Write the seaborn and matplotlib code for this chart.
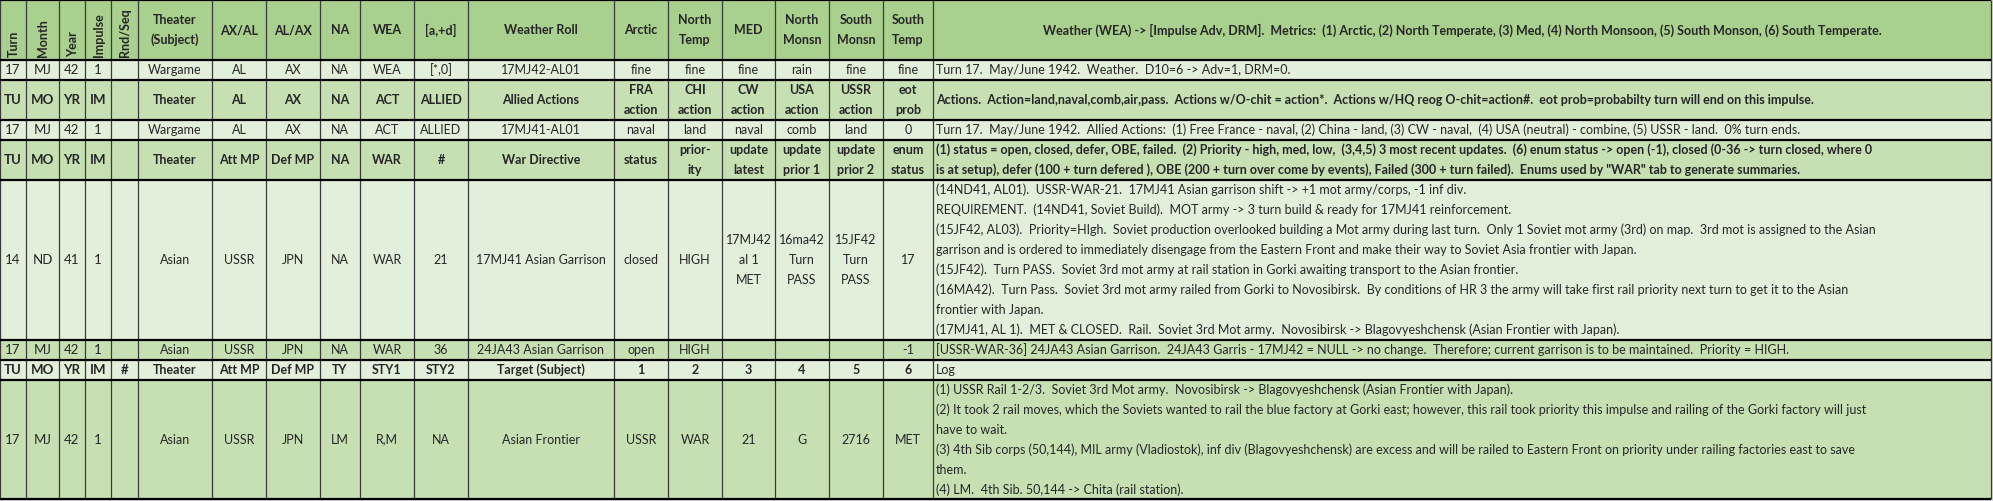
import matplotlib
matplotlib.use("Agg")
import matplotlib.pyplot as plt
import matplotlib.patches as mpatches
import seaborn as sns

sns.set_theme(style="white")
plt.rcParams['font.family'] = ['Lato', 'DejaVu Sans']

# column edges and row edges of the sheet (pixels)
col_edges = [0, 26, 59, 85, 111, 138, 212, 266, 320, 360, 414, 468, 614, 668,
             722, 775, 829, 883, 933, 1991]
row_edges = [0, 60, 80, 120, 140, 180, 340, 360, 380, 499]

DARK = '#A9D08E'
MID = '#C6E0B4'
LIGHT = '#E2EFDA'
row_colors = [DARK, LIGHT, MID, LIGHT, MID, LIGHT, MID, LIGHT, MID]
row_bold = [True, False, True, False, True, False, False, True, False]

# cell contents (first 18 columns)
header = ['Turn', 'Month', 'Year', 'Impulse', 'Rnd/Seq', 'Theater\n(Subject)', 'AX/AL', 'AL/AX',
          'NA', 'WEA', '[a,+d]', 'Weather Roll', 'Arctic', 'North\nTemp', 'MED',
          'North\nMonsn', 'South\nMonsn', 'South\nTemp']
weather = ['17', 'MJ', '42', '1', '', 'Wargame', 'AL', 'AX', 'NA', 'WEA', '[*,0]',
           '17MJ42-AL01', 'fine', 'fine', 'fine', 'rain', 'fine', 'fine']
act_head = ['TU', 'MO', 'YR', 'IM', '', 'Theater', 'AL', 'AX', 'NA', 'ACT', 'ALLIED',
            'Allied Actions', 'FRA\naction', 'CHI\naction', 'CW\naction', 'USA\naction',
            'USSR\naction', 'eot\nprob']
actions = ['17', 'MJ', '42', '1', '', 'Wargame', 'AL', 'AX', 'NA', 'ACT', 'ALLIED',
           '17MJ41-AL01', 'naval', 'land', 'naval', 'comb', 'land', '0']
war_head = ['TU', 'MO', 'YR', 'IM', '', 'Theater', 'Att MP', 'Def MP', 'NA', 'WAR', '#',
            'War Directive', 'status', 'prior-\nity', 'update\nlatest', 'update\nprior 1',
            'update\nprior 2', 'enum\nstatus']
war_21 = ['14', 'ND', '41', '1', '', 'Asian', 'USSR', 'JPN', 'NA', 'WAR', '21',
          '17MJ41 Asian Garrison', 'closed', 'HIGH', '17MJ42\nal 1\nMET', '16ma42\nTurn\nPASS',
          '15JF42\nTurn\nPASS', '17']
war_36 = ['17', 'MJ', '42', '1', '', 'Asian', 'USSR', 'JPN', 'NA', 'WAR', '36',
          '24JA43 Asian Garrison', 'open', 'HIGH', '', '', '', '-1']
log_head = ['TU', 'MO', 'YR', 'IM', '#', 'Theater', 'Att MP', 'Def MP', 'TY', 'STY1', 'STY2',
            'Target (Subject)', '1', '2', '3', '4', '5', '6']
log_row = ['17', 'MJ', '42', '1', '', 'Asian', 'USSR', 'JPN', 'LM', 'R,M', 'NA',
           'Asian Frontier', 'USSR', 'WAR', '21', 'G', '2716', 'MET']
cells = [header, weather, act_head, actions, war_head, war_21, war_36, log_head, log_row]

# last (wide) column, one list of lines per row
notes = [
    ['Weather (WEA) -> [Impulse Adv, DRM].  Metrics:  (1) Arctic, (2) North Temperate, (3) Med, '
     '(4) North Monsoon, (5) South Monson, (6) South Temperate.'],
    ['Turn 17.  May/June 1942.  Weather.  D10=6 -> Adv=1, DRM=0.'],
    ['Actions.  Action=land,naval,comb,air,pass.  Actions w/O-chit = action*.  Actions w/HQ reog '
     'O-chit=action#.  eot prob=probabilty turn will end on this impulse.'],
    ['Turn 17.  May/June 1942.  Allied Actions:  (1) Free France - naval, (2) China - land, '
     '(3) CW - naval,  (4) USA (neutral) - combine, (5) USSR - land.  0% turn ends.'],
    ['(1) status = open, closed, defer, OBE, failed.  (2) Priority - high, med, low,  (3,4,5) 3 most '
     'recent updates.  (6) enum status -> open (-1), closed (0-36 -> turn closed, where 0',
     'is at setup), defer (100 + turn defered ), OBE (200 + turn over come by events), Failed '
     '(300 + turn failed).  Enums used by "WAR" tab to generate summaries.'],
    ['(14ND41, AL01).  USSR-WAR-21.  17MJ41 Asian garrison shift -> +1 mot army/corps, -1 inf div.',
     'REQUIREMENT.  (14ND41, Soviet Build).  MOT army -> 3 turn build & ready for 17MJ41 reinforcement.',
     '(15JF42, AL03).  Priority=HIgh.  Soviet production overlooked building a Mot army during last '
     'turn.  Only 1 Soviet mot army (3rd) on map.  3rd mot is assigned to the Asian',
     'garrison and is ordered to immediately disengage from the Eastern Front and make their way to '
     'Soviet Asia frontier with Japan.',
     '(15JF42).  Turn PASS.  Soviet 3rd mot army at rail station in Gorki awaiting transport to the '
     'Asian frontier.',
     '(16MA42).  Turn Pass.  Soviet 3rd mot army railed from Gorki to Novosibirsk.  By conditions of '
     'HR 3 the army will take first rail priority next turn to get it to the Asian',
     'frontier with Japan.',
     '(17MJ41, AL 1).  MET & CLOSED.  Rail.  Soviet 3rd Mot army.  Novosibirsk -> Blagovyeshchensk '
     '(Asian Frontier with Japan).'],
    ['[USSR-WAR-36] 24JA43 Asian Garrison.  24JA43 Garris - 17MJ42 = NULL -> no change.  Therefore; '
     'current garrison is to be maintained.  Priority = HIGH.'],
    ['Log'],
    ['(1) USSR Rail 1-2/3.  Soviet 3rd Mot army.  Novosibirsk -> Blagovyeshchensk (Asian Frontier '
     'with Japan).',
     '(2) It took 2 rail moves, which the Soviets wanted to rail the blue factory at Gorki east; '
     'however, this rail took priority this impulse and railing of the Gorki factory will just',
     'have to wait.',
     '(3) 4th Sib corps (50,144), MIL army (Vladiostok), inf div (Blagovyeshchensk) are excess and '
     'will be railed to Eastern Front on priority under railing factories east to save',
     'them.',
     '(4) LM.  4th Sib. 50,144 -> Chita (rail station).'],
]
notes_centered = [True, False, False, False, False, False, False, False, False]
notes_bold = [True, False, True, False, True, False, False, False, False]

fig, ax = plt.subplots(figsize=(19.93, 5.01), dpi=100)
fig.subplots_adjust(0, 0, 1, 1)
fig.patch.set_facecolor('#D9D9D9')
ax.set_xlim(0, 1993)
ax.set_ylim(501, 0)
ax.axis('off')

FS = 9
LINE = 20

for r in range(len(cells)):
    y0, y1 = row_edges[r], row_edges[r + 1]
    ax.add_patch(mpatches.Rectangle((0, y0), col_edges[-1], y1 - y0,
                                    facecolor=row_colors[r], edgecolor='none'))
    ym = (y0 + y1) / 2
    weight = 'bold' if row_bold[r] else 'normal'
    for c, txt in enumerate(cells[r]):
        if not txt:
            continue
        xm = (col_edges[c] + col_edges[c + 1]) / 2
        if r == 0 and c < 5:
            ax.text(xm + 1, y1 - 3, txt, rotation=90, ha='center', va='bottom',
                    fontsize=FS, fontweight='bold')
            continue
        lines = txt.split('\n')
        n = len(lines)
        cfs = FS if len(cells[r][c]) > 5 or c > 4 else FS + 0.5
        for i, ln in enumerate(lines):
            yy = ym + (i - (n - 1) / 2) * LINE
            ax.text(xm, yy, ln, ha='center', va='center', fontsize=cfs,
                    fontweight=weight)
    # wide log column
    lines = notes[r]
    n = len(lines)
    nw = 'bold' if notes_bold[r] else 'normal'
    if notes_centered[r]:
        ax.text((col_edges[-2] + col_edges[-1]) / 2, ym, lines[0], ha='center', va='center',
                fontsize=FS, fontweight=nw)
    else:
        for i, ln in enumerate(lines):
            if r in (5, 8):
                yy = y0 + 10 + i * LINE
            else:
                yy = ym + (i - (n - 1) / 2) * LINE
            ax.text(col_edges[-2] + 3, yy, ln, ha='left', va='center', fontsize=FS,
                    fontweight=nw)

ax.vlines(col_edges, 0, row_edges[-1], colors='#3a3a3a', linewidth=0.9)
ax.hlines(row_edges, 0, col_edges[-1], colors='black', linewidth=1.6)

fig.savefig('out.png', dpi=100, facecolor=fig.get_facecolor())
